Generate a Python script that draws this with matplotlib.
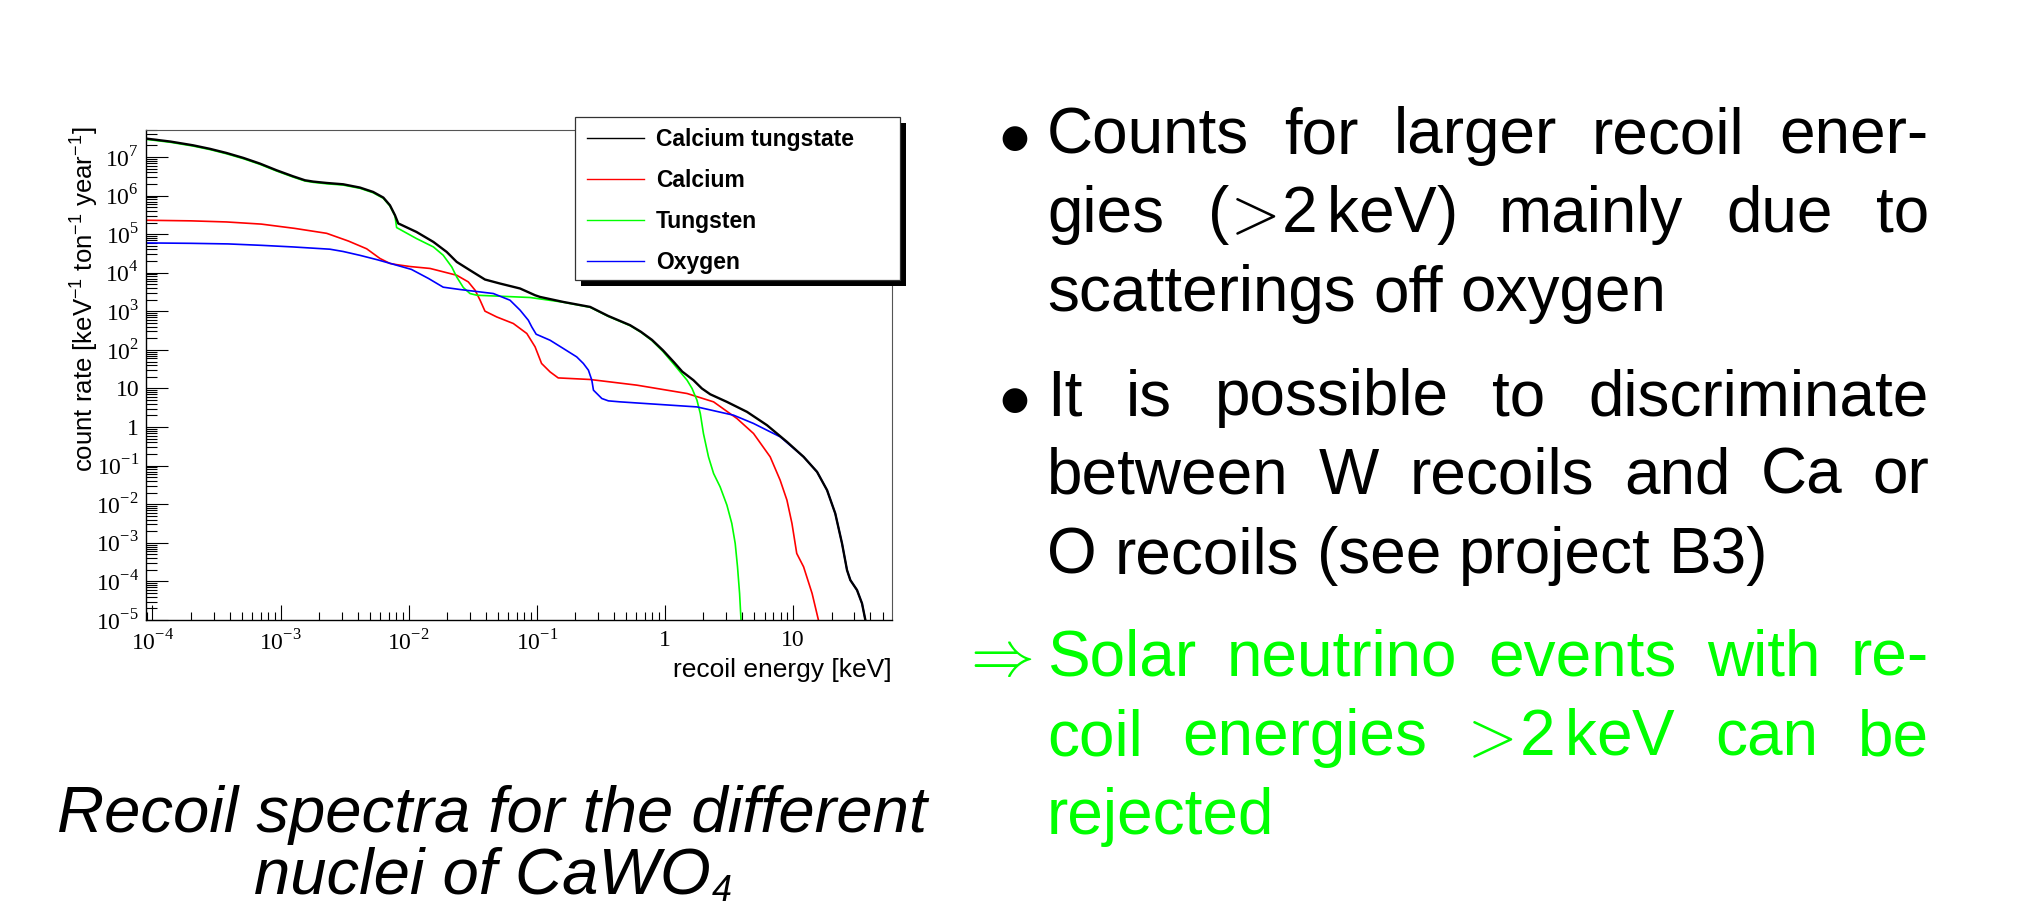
import matplotlib

matplotlib.use("Agg")
import matplotlib.pyplot as plt
import numpy as np
from matplotlib.patches import Rectangle
from matplotlib.ticker import LogLocator, NullFormatter
from matplotlib.transforms import IdentityTransform

W_PX, H_PX, DPI = 2032, 909, 100

# Recoil spectra: energy in keV, count rate in keV^-1 ton^-1 year^-1
cawo4_energy = [8.9e-5, 1.38e-4, 2.07e-4, 2.82e-4, 3.78e-4, 5.13e-4, 6.89e-4, 9.31e-4,
                1.25e-3, 1.55e-3, 1.80e-3, 2.29e-3, 3.08e-3, 4.17e-3, 5.28e-3, 6.34e-3,
                7.14e-3, 7.82e-3, 8.30e-3, 8.55e-3, 1.15e-2, 1.56e-2, 1.98e-2, 2.37e-2,
                3.01e-2, 3.94e-2, 5.16e-2, 7.41e-2, 9.70e-2, 0.106, 0.161, 0.261, 0.361,
                0.535, 0.650, 0.793, 0.966, 1.178, 1.365, 1.671, 1.945, 2.259, 3.048,
                4.375, 6.266, 8.974, 12.11, 15.42, 18.45, 21.38, 24.15, 26.42, 28.05,
                31.62, 34.59, 36.73]
cawo4_rate = [3.0e7, 2.51e7, 2.01e7, 1.62e7, 1.27e7, 9.44e6, 6.75e6, 4.52e6,
              3.16e6, 2.49e6, 2.30e6, 2.12e6, 1.96e6, 1.61e6, 1.24e6, 8.87e5,
              5.61e5, 3.09e5, 1.88e5, 1.81e5, 1.14e5, 6.28e4, 3.46e4, 1.91e4,
              1.16e4, 6.67e3, 5.25e3, 3.90e3, 2.61e3, 2.36e3, 1.75e3, 1.30e3, 759,
              437, 295, 182, 97.7, 47.9, 27.5, 16.4, 10.0, 7.08, 4.50,
              2.48, 1.12, 0.414, 0.169, 0.0690, 0.0232, 5.78e-3, 9.64e-4, 1.96e-4, 1.08e-4,
              5.96e-5, 2.69e-5, 1.0e-5]

calcium_energy = [8.9e-5, 2.0e-4, 3.78e-4, 7.08e-4, 1.29e-3, 2.29e-3, 3.39e-3, 4.70e-3,
                  5.97e-3, 7.14e-3, 8.05e-3, 1.02e-2, 1.47e-2, 2.37e-2, 2.92e-2, 3.30e-2,
                  3.61e-2, 3.94e-2, 4.86e-2, 6.56e-2, 8.36e-2, 9.70e-2, 0.109, 0.127,
                  0.147, 0.261, 0.604, 1.49, 2.40, 3.65, 4.92, 6.64, 7.94, 8.97, 9.82,
                  10.7, 12.1, 14.1, 15.8]
calcium_rate = [2.29e5, 2.21e5, 2.07e5, 1.82e5, 1.41e5, 1.05e5, 6.61e4, 4.17e4,
                2.34e4, 1.74e4, 1.62e4, 1.45e4, 1.29e4, 8.61e3, 5.78e3, 3.52e3,
                1.94e3, 1.01e3, 716, 483, 266, 120, 44.5, 26.9,
                18.8, 17.1, 12.2, 7.41, 4.50, 1.67, 0.682, 0.169, 0.0421, 0.0128, 3.18e-3,
                5.31e-4, 2.39e-4, 4.89e-5, 1.0e-5]

tungsten_energy = [8.9e-5, 1.38e-4, 2.07e-4, 2.82e-4, 3.78e-4, 5.13e-4, 6.89e-4, 9.31e-4,
                   1.25e-3, 1.55e-3, 1.80e-3, 2.29e-3, 3.08e-3, 4.17e-3, 5.28e-3, 6.34e-3,
                   7.14e-3, 7.82e-3, 8.05e-3, 1.15e-2, 1.56e-2, 1.86e-2, 2.17e-2, 2.37e-2,
                   2.67e-2, 3.01e-2, 3.40e-2, 8.87e-2, 0.161, 0.261, 0.361, 0.535, 0.650,
                   0.793, 0.966, 1.178, 1.49, 1.63, 1.78, 1.89, 2.00, 2.19, 2.40, 2.70,
                   3.05, 3.33, 3.54, 3.69, 3.83, 3.93]
tungsten_rate = [2.87e7, 2.40e7, 1.92e7, 1.55e7, 1.21e7, 9.0e6, 6.45e6, 4.32e6,
                 3.02e6, 2.38e6, 2.20e6, 2.02e6, 1.87e6, 1.54e6, 1.18e6, 8.47e5,
                 5.36e5, 2.95e5, 1.48e5, 7.69e4, 4.66e4, 2.84e4, 1.41e4, 7.78e3,
                 4.14e3, 2.89e3, 2.61e3, 2.28e3, 1.72e3, 1.27e3, 740, 425, 287,
                 174, 91.0, 42.0, 16.4, 10.0, 4.98, 2.25, 0.682, 0.169, 0.0628, 0.0282,
                 9.48e-3, 3.18e-3, 9.64e-4, 2.39e-4, 4.89e-5, 1.0e-5]

oxygen_energy = [8.9e-5, 2.0e-4, 3.89e-4, 7.08e-4, 1.25e-3, 2.43e-3, 3.08e-3, 4.17e-3,
                 5.75e-3, 1.05e-2, 1.43e-2, 1.86e-2, 2.52e-2, 4.58e-2, 6.18e-2, 7.41e-2,
                 8.59e-2, 9.14e-2, 9.89e-2, 0.127, 0.161, 0.205, 0.231, 0.253, 0.269,
                 0.277, 0.322, 0.362, 0.448, 1.78, 3.44, 4.92, 7.96, 12.11, 15.42, 18.45,
                 21.38, 24.15, 26.42, 28.05, 31.62, 34.59, 36.73]
oxygen_rate = [5.92e4, 5.78e4, 5.58e4, 5.13e4, 4.66e4, 4.07e4, 3.55e4, 2.82e4,
               2.15e4, 1.22e4, 7.08e3, 4.22e3, 3.67e3, 2.89e3, 1.94e3, 1.07e3,
               587, 394, 255, 178, 109, 65.9, 44.5, 29.8, 16.4,
               9.04, 5.50, 4.78, 4.50, 3.33, 2.03, 1.24, 0.557, 0.169, 0.0690, 0.0232,
               5.78e-3, 9.64e-4, 1.96e-4, 1.08e-4, 5.96e-5, 2.69e-5, 1.0e-5]

series_labels = ["Calcium tungstate", "Calcium", "Tungsten", "Oxygen"]
series_colors = ["#000000", "#ff0000", "#00ff00", "#0000ff"]

x_ticks = [1e-4, 1e-3, 1e-2, 1e-1, 1, 10]
x_tick_labels = ["10$^{\\mathregular{-4}}$", "10$^{\\mathregular{-3}}$",
                 "10$^{\\mathregular{-2}}$", "10$^{\\mathregular{-1}}$", "1", "10"]
y_ticks = [1e-5, 1e-4, 1e-3, 1e-2, 1e-1, 1, 10, 1e2, 1e3, 1e4, 1e5, 1e6, 1e7]
y_tick_labels = ["10$^{\\mathregular{-5}}$", "10$^{\\mathregular{-4}}$",
                 "10$^{\\mathregular{-3}}$", "10$^{\\mathregular{-2}}$",
                 "10$^{\\mathregular{-1}}$", "1", "10",
                 "10$^{\\mathregular{2}}$", "10$^{\\mathregular{3}}$",
                 "10$^{\\mathregular{4}}$", "10$^{\\mathregular{5}}$",
                 "10$^{\\mathregular{6}}$", "10$^{\\mathregular{7}}$"]

bullet_paragraphs = [
    ["Counts for larger recoil ener-",
     "gies ($\\!>\\!$2$\\,$keV) mainly due to",
     "scatterings off oxygen"],
    ["It is possible to discriminate",
     "between W recoils and Ca or",
     "O recoils (see project B3)"],
    ["Solar neutrino events with re-",
     "coil energies $\\!>\\!$2$\\,$keV can be",
     "rejected"],
]
bullet_markers = ["$\\bullet$", "$\\bullet$", "$\\Rightarrow$"]
bullet_colors = ["black", "black", "#00ff00"]
caption_lines = ["Recoil spectra for the different", "nuclei of CaWO"]

SANS = ["Liberation Sans", "DejaVu Sans"]
SERIF = ["Liberation Serif", "DejaVu Serif"]


def frac(x_px, y_px):
    """Pixel position measured from the top-left corner -> figure fraction."""
    return x_px / W_PX, 1 - y_px / H_PX


fig = plt.figure(figsize=(W_PX / DPI, H_PX / DPI), dpi=DPI, facecolor="white")

# --- spectrum panel ---
ax_left, ax_top, ax_right, ax_bottom = 146, 130, 892, 620
ax = fig.add_axes([ax_left / W_PX, 1 - ax_bottom / H_PX,
                   (ax_right - ax_left) / W_PX, (ax_bottom - ax_top) / H_PX])

spectra = [(cawo4_energy, cawo4_rate, 1.7, 2.4),
           (calcium_energy, calcium_rate, 1.2, 2.1),
           (tungsten_energy, tungsten_rate, 1.2, 2.2),
           (oxygen_energy, oxygen_rate, 1.2, 2.3)]
lines = []
for (energy, rate, lw, z), color in zip(spectra, series_colors):
    (ln,) = ax.plot(energy, rate, lw=lw, color=color, zorder=z)
    lines.append(ln)

ax.set_xscale("log")
ax.set_yscale("log")
ax.set_xlim(8.9e-5, 59.3)
ax.set_ylim(1e-5, 5e7)

ax.set_xticks(x_ticks, labels=x_tick_labels)
ax.set_yticks(y_ticks, labels=y_tick_labels)
ax.xaxis.set_minor_locator(LogLocator(base=10, subs=np.arange(2, 10), numticks=200))
ax.yaxis.set_minor_locator(LogLocator(base=10, subs=np.arange(2, 10), numticks=200))
ax.xaxis.set_minor_formatter(NullFormatter())
ax.yaxis.set_minor_formatter(NullFormatter())

ax.tick_params(which="both", direction="in", top=False, right=False, width=0.8,
               color="black", labelfontfamily=SERIF, labelsize=17)
ax.tick_params(axis="y", which="major", length=15.5, pad=5)
ax.tick_params(axis="y", which="minor", length=7.7)
ax.tick_params(axis="x", which="major", length=11, pad=7)
ax.tick_params(axis="x", which="minor", length=5.8)

for side in ("left", "bottom"):
    ax.spines[side].set_linewidth(1.0)
for side in ("top", "right"):
    ax.spines[side].set_linewidth(0.8)
    ax.spines[side].set_color("#555555")

ax.set_xlabel("recoil energy [keV]", loc="right", family=SANS, fontsize=19)
ax.xaxis.set_label_coords(1.0, -(677 - ax_bottom) / (ax_bottom - ax_top))
ax.xaxis.label.set_verticalalignment("baseline")

ax.set_ylabel("count rate [keV$^{\\mathregular{-1}}$ ton$^{\\mathregular{-1}}$ "
              "year$^{\\mathregular{-1}}$]", loc="top", family=SANS, fontsize=18.5)
ax.yaxis.set_label_coords((93 - ax_left) / (ax_right - ax_left),
                          (ax_bottom - 127) / (ax_bottom - ax_top))
ax.yaxis.label.set_verticalalignment("baseline")

# legend box with a hard drop shadow, drawn over the curves
leg_x0, leg_y0, leg_x1, leg_y1 = 575, 117, 900, 280
shadow = Rectangle(frac(leg_x0 + 6, leg_y1 + 6), (leg_x1 - leg_x0) / W_PX,
                   (leg_y1 - leg_y0) / H_PX, transform=fig.transFigure,
                   facecolor="black", edgecolor="none", zorder=3.8, clip_on=False)
frame = Rectangle(frac(leg_x0, leg_y1), (leg_x1 - leg_x0) / W_PX,
                  (leg_y1 - leg_y0) / H_PX, transform=fig.transFigure,
                  facecolor="white", edgecolor="#333333", lw=0.9, zorder=3.9,
                  clip_on=False)
ax.add_artist(shadow)
ax.add_artist(frame)

leg = ax.legend(lines, series_labels, loc="upper left",
                bbox_to_anchor=frac(587, 128), bbox_transform=fig.transFigure,
                frameon=False, borderpad=0, borderaxespad=0, handlelength=2.5,
                handletextpad=0.52, labelspacing=0.78,
                prop=dict(family=SANS, weight="bold", size=16.5))
for h in leg.get_lines():
    h.set_linewidth(1.0)
leg.set_zorder(5)

# --- text on the right, justified like the slide ---
renderer = fig.canvas.get_renderer()
BODY_SIZE = 46
TEXT_LEFT, TEXT_RIGHT = 1047, 1929
para_baselines = [[153, 232, 311], [415, 494, 573], [676, 755, 834]]
marker_x = [1013, 1013, 996]


def put(x, y_top, s, **kw):
    return fig.text(x, H_PX - y_top, s, transform=IdentityTransform(), **kw)


space_w = 0.278 * BODY_SIZE * DPI / 72
for paragraph, baselines, marker, mx, color in zip(bullet_paragraphs, para_baselines,
                                                   bullet_markers, marker_x, bullet_colors):
    put(mx, baselines[0], marker, color=color, fontsize=BODY_SIZE, family=SANS,
        math_fontfamily="cm", ha="center", va="baseline")
    for i, (line, y) in enumerate(zip(paragraph, baselines)):
        words = line.split(" ")
        arts = [put(0, y, w, color=color, fontsize=BODY_SIZE, family=SANS,
                    math_fontfamily="cm", ha="left", va="baseline") for w in words]
        widths = [a.get_window_extent(renderer).width for a in arts]
        if i == len(paragraph) - 1 or len(words) == 1:
            gap = space_w
        else:
            gap = (TEXT_RIGHT - TEXT_LEFT - sum(widths)) / (len(words) - 1)
        x = TEXT_LEFT
        for a, w in zip(arts, widths):
            a.set_x(x)
            x += w + gap

# --- caption under the panel ---
CAP_SIZE = 47
cap_x = 492
put(cap_x, 832, caption_lines[0], fontsize=CAP_SIZE, family=SANS, style="italic",
    ha="center", va="baseline")
cap2 = put(cap_x, 894, caption_lines[1], fontsize=CAP_SIZE, family=SANS, style="italic",
           ha="center", va="baseline")
sub = put(0, 901, "4", fontsize=CAP_SIZE * 0.55, family=SANS, style="italic",
          ha="left", va="baseline")
sub_w = sub.get_window_extent(renderer).width
cap2_w = cap2.get_window_extent(renderer).width
cap2.set_x(cap_x - sub_w / 2)
sub.set_x(cap_x - sub_w / 2 + cap2_w / 2 + 1)

fig.savefig("out.png", dpi=DPI, facecolor="white")
